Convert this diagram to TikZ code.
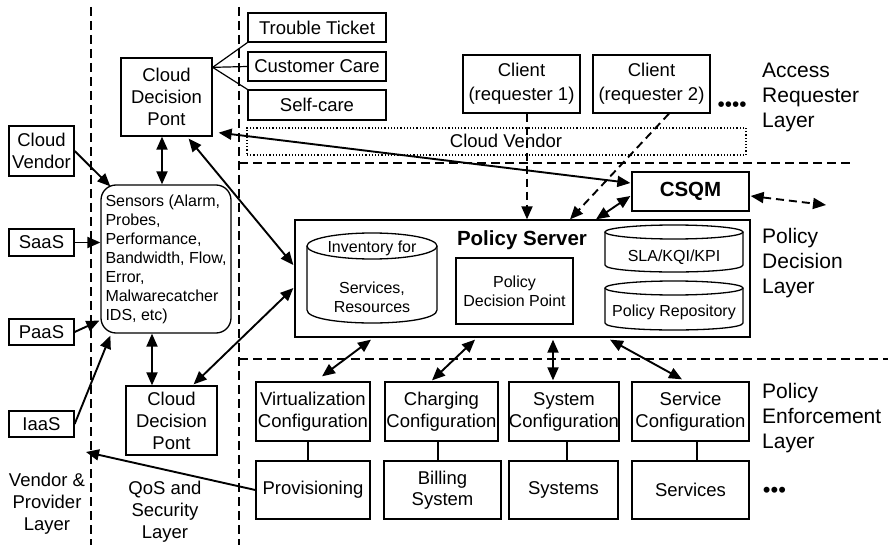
\documentclass[tikz,border=0pt]{standalone}
\usepackage{fontspec}
\setmainfont{Liberation Sans}
\usetikzlibrary{arrows.meta,calc}
\newcommand{\fsN}{\fontsize{18.5}{22}\selectfont}
\newcommand{\fsC}{\fontsize{18.5}{24}\selectfont}
\newcommand{\fsS}{\fontsize{16}{19}\selectfont}
\newcommand{\fsL}{\fontsize{21}{25}\selectfont}
\newcommand{\fsB}{\fontsize{20.5}{24}\selectfont\bfseries}
\tikzset{
  box/.style={draw, line width=1.3pt, inner sep=0pt, align=center, font=\fsN},
  lbl/.style={inner sep=0pt, align=center, font=\fsN},
  lay/.style={inner sep=0pt, align=left, font=\fsL, anchor=west},
  tip/.tip={Triangle[length=13pt,width=11pt]},
  arr/.style={line width=1.9pt, -tip},
  darr/.style={line width=1.9pt, tip-tip},
  sep/.style={line width=1.5pt, dash pattern=on 9pt off 5pt},
  dsharr/.style={line width=1.9pt, dash pattern=on 8pt off 5pt, -tip},
  ddsharr/.style={line width=1.9pt, dash pattern=on 8pt off 5pt, tip-tip},
  link/.style={line width=1.2pt},
  cyl/.style={line width=1.3pt}
}
\begin{document}
\begin{tikzpicture}[x=1pt,y=-1pt]
\fill[white] (0,0) rectangle (888,545);
\useasboundingbox (0,0) rectangle (888,545);

% separators
\draw[sep] (91,7) -- (91,545);
\draw[sep] (239,7) -- (239,545);
\draw[sep] (239,163) -- (852,163);
\draw[sep] (239,359) -- (888,359);

% left column
\node[box, minimum width=65pt, minimum height=50pt] (cv) at (41.5,151) {Cloud\\Vendor};
\node[box, minimum width=65pt, minimum height=27pt] (saas) at (41.5,242.5) {SaaS};
\node[box, minimum width=65pt, minimum height=26pt] (paas) at (41.5,332) {PaaS};
\node[box, minimum width=65pt, minimum height=26pt] (iaas) at (41.5,424) {IaaS};

% sensors
\node[box, rounded corners=15pt, minimum width=130pt, minimum height=148pt, align=left, font=\fsS] (sens) at (166,259)
  {Sensors (Alarm,\\Probes,\\Performance,\\Bandwidth, Flow,\\Error,\\Malwarecatcher\\IDS, etc)};

% cloud decision ponts
\node[box, minimum width=91pt, minimum height=78pt, font=\fontsize{18.5}{21.7}\selectfont] (cdp1) at (166.5,97) {Cloud\\Decision\\Pont};
\node[box, minimum width=91pt, minimum height=69pt, font=\fontsize{18.5}{22}\selectfont] (cdp2) at (171.5,420.5) {Cloud\\Decision\\Pont};

% top boxes
\node[box, minimum width=138pt, minimum height=29pt] (tt) at (317,27.5) {Trouble Ticket};
\node[box, minimum width=138pt, minimum height=29pt] (cc) at (317,66.5) {Customer Care};
\node[box, minimum width=138pt, minimum height=30pt] (sc) at (317,105) {Self-care};
\coordinate (cdpr) at ($(cdp1.north east)+(0,10)$);
\draw[link] (cdpr) -- (tt.south west);
\draw[link] (cdpr) -- (cc.west);
\draw[link] (cdpr) -- (sc.north west);

% clients
\node[box, font=\fsC, minimum width=117pt, minimum height=58pt] (client1) at (521.5,84) {Client\\(requester 1)};
\node[box, font=\fsC, minimum width=117pt, minimum height=58pt] (client2) at (651.5,84) {Client\\(requester 2)};
\node[lbl, font=\fontsize{20.7}{24}\selectfont] (dots1) at (732,107) {••••};
\node[lay] (alay) at (762,97) {Access\\Requester\\Layer};

% cloud vendor dotted band
\node[draw, dotted, line width=1.2pt, minimum width=499pt, minimum height=27pt, inner sep=0pt] (cvb) at (496.5,141.5) {};
\node[lbl] (cvt) at (506,141) {Cloud Vendor};

% CSQM
\node[box, font=\fsB, minimum width=117pt, minimum height=39pt] (csqm) at (690.5,191.5) {CSQM};
\coordinate (ext) at (826,205);

% policy server
\node[box, minimum width=455pt, minimum height=117pt] (ps) at (522.5,278.5) {};
\node[lbl, font=\fsB] (pst) at (522,240) {Policy Server};
\node[box, font=\fsS, minimum width=117pt, minimum height=66pt] (pdp) at (514.5,291) {Policy\\Decision Point};

% inventory cylinder
\draw[cyl] (372,246) ellipse [x radius=65pt, y radius=13pt];
\draw[cyl] (307,246) -- (307,310) .. controls (307,327.33) and (437,327.33) .. (437,310) -- (437,246);
\node[lbl, font=\fsS] (invt) at (372,248) {Inventory for};
\node[lbl, font=\fsS] (invb) at (372,297.5) {Services,\\Resources};

% SLA cylinder
\draw[cyl] (674,232) ellipse [x radius=69pt, y radius=7pt];
\draw[cyl] (605,232) -- (605,265) .. controls (605,274.33) and (743,274.33) .. (743,265) -- (743,232);
\node[lbl, font=\fsS] (slat) at (674,257) {SLA/KQI/KPI};

% repository cylinder
\draw[cyl] (674,288) ellipse [x radius=69pt, y radius=7pt];
\draw[cyl] (605,288) -- (605,323) .. controls (605,332.33) and (743,332.33) .. (743,323) -- (743,288);
\node[lbl, font=\fsS] (repot) at (674,312) {Policy Repository};

\node[lay] (pdlay) at (762,263) {Policy\\Decision\\Layer};

% enforcement
\node[box, minimum width=114pt, minimum height=59pt] (virt) at (313,411.5) {Virtualization\\Configuration};
\node[box, minimum width=113pt, minimum height=59pt] (charg) at (441.5,411.5) {Charging\\Configuration};
\node[box, minimum width=110pt, minimum height=59pt] (sysc) at (564,411.5) {System\\Configuration};
\node[box, minimum width=117pt, minimum height=59pt] (servc) at (690.5,411.5) {Service\\Configuration};
\node[box, minimum width=114pt, minimum height=58pt] (prov) at (313,490) {Provisioning};
\node[box, minimum width=117pt, minimum height=58pt, font=\fontsize{18.5}{21}\selectfont] (bill) at (442.5,490) {Billing\\System};
\node[box, minimum width=109pt, minimum height=58pt] (systems) at (563.5,490) {Systems};
\node[box, minimum width=117pt, minimum height=58pt] (services) at (690.5,490) {Services};
\draw[link] ($(virt.south)+(-5,0)$) -- ($(prov.north)+(-5,0)$);
\draw[link] ($(charg.south)+(-3.5,0)$) -- ($(bill.north)+(-4.5,0)$);
\draw[link] ($(sysc.south)+(3,0)$) -- ($(systems.north)+(3.5,0)$);
\draw[link] ($(servc.south)+(6.5,0)$) -- ($(services.north)+(6.5,0)$);
\node[lbl, font=\fontsize{22}{24}\selectfont] (dots2) at (774.5,492) {•••};
\node[lay] (pelay) at (762,418) {Policy\\Enforcement\\Layer};

% bottom-left layer labels
\node[lbl] (vpl) at (47,504) {Vendor \&\\Provider\\Layer};
\node[lbl] (qsl) at (165,512) {QoS and\\Security\\Layer};
\coordinate (vpend) at (86,452);

% arrows
\draw[arr] (cv.east) -- ($(sens.north west)+(10,2)$);
\draw[arr] (saas.east) -- (saas.east -| sens.west);
\draw[arr] (paas.east) -- ($(sens.south west)+(-1,-13)$);
\draw[arr] (iaas.east) -- ($(sens.south west)+(10,2)$);
\draw[darr] ($(cdp1.south)+(-4.5,0)$) -- ($(sens.north)+(-4,0)$);
\draw[darr] ($(sens.south)+(-14,0)$) -- ($(cdp2.north)+(-19.5,0)$);
\draw[darr] ($(cdp1.south east)+(-24,2)$) -- ($(ps.west)+(-1,-13.5)$);
\draw[darr] ($(cdp2.north east)+(-24,-1)$) -- ($(ps.west)+(-1,9.5)$);
\draw[darr] ($(cdp1.south east)+(6,-4)$) -- ($(csqm.west)+(-1,-8.5)$);
\draw[dsharr] ($(client1.south)+(5.5,0)$) -- ($(ps.north)+(4.5,0)$);
\draw[dsharr] ($(client2.south)+(17.5,0)$) -- ($(ps.north)+(47.5,0)$);
\draw[darr] ($(csqm.west)+(-1,4.5)$) -- ($(ps.north)+(73.5,0)$);
\draw[ddsharr] ($(csqm.east)+(1,4.5)$) -- (ext);
\draw[darr] ($(ps.south)+(-151.5,2)$) -- ($(virt.north)+(9,-5)$);
\draw[darr] ($(ps.south)+(-47.5,2)$) -- ($(charg.north)+(-9.5,-1)$);
\draw[darr] ($(ps.south)+(30.5,2)$) -- ($(sysc.north)+(-11,-1)$);
\draw[darr] ($(ps.south)+(87.5,2)$) -- ($(servc.north)+(-8.5,-2)$);
\draw[arr] (prov.west) -- (vpend);
\end{tikzpicture}
\end{document}
